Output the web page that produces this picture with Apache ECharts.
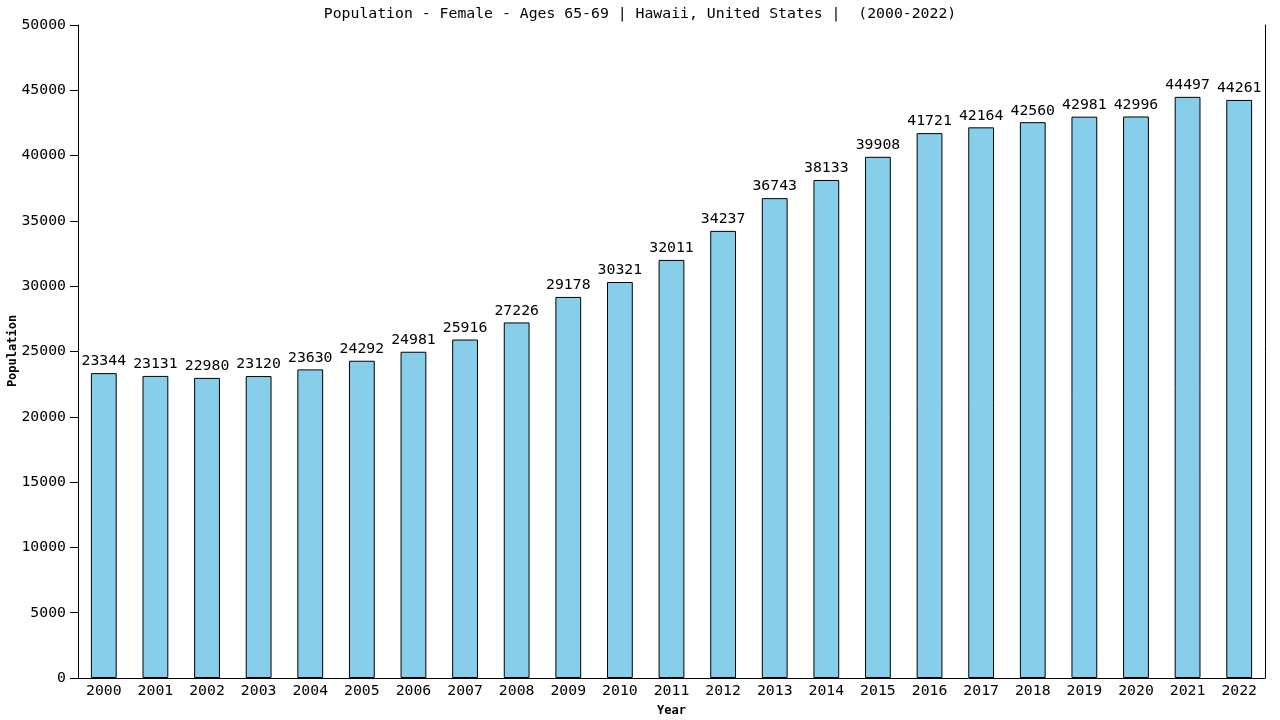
<!DOCTYPE html>
<html>
<head>
<meta charset="utf-8">
<script src="https://cdn.jsdelivr.net/npm/echarts@6/dist/echarts.min.js"></script>
<style>
html,body{margin:0;padding:0;background:#fff;}
#main{width:1280px;height:720px;}
</style>
</head>
<body>
<div id="main"></div>
<script>
var years=['2000','2001','2002','2003','2004','2005','2006','2007','2008','2009','2010','2011','2012','2013','2014','2015','2016','2017','2018','2019','2020','2021','2022'];
var population=[23344,23131,22980,23120,23630,24292,24981,25916,27226,29178,30321,32011,34237,36743,38133,39908,41721,42164,42560,42981,42996,44497,44261];

var font='"DejaVu Sans Mono", monospace';
var myChart=echarts.init(document.getElementById('main'));
var option={
	animation:false,
	title:{
		text:'Population - Female - Ages 65-69 | Hawaii, United States |  (2000-2022)',
		left:'center',
		top:2,
		textStyle:{fontFamily:font,fontSize:14.8,fontWeight:'normal',color:'#000'}
	},
	// y axis title, drawn by hand so it sits where the reference has it
	graphic:[{
		type:'text',
		x:13,
		y:351,
		rotation:Math.PI/2,
		style:{text:'Population',fontFamily:font,fontSize:12,fontWeight:'bold',fill:'#000',align:'center',verticalAlign:'middle'}
	}],
	grid:{left:78,right:15,top:25,bottom:42,containLabel:false,outerBoundsMode:'none'},
	xAxis:[{
		type:'category',
		data:years,
		name:'Year',
		nameLocation:'middle',
		nameGap:27,
		nameMoveOverlap:false,
		nameTextStyle:{fontFamily:font,fontSize:12,fontWeight:'bold',color:'#000'},
		axisLine:{lineStyle:{color:'#000',width:1}},
		axisTick:{show:false},
		axisLabel:{fontFamily:font,fontSize:14.8,color:'#000',margin:6,interval:0}
	}],
	yAxis:[{
		type:'value',
		min:0,
		max:50000,
		interval:5000,
		axisLine:{show:true,lineStyle:{color:'#000',width:1}},
		axisTick:{show:true,length:8,lineStyle:{color:'#000'}},
		axisLabel:{fontFamily:font,fontSize:14.8,color:'#000',margin:12,formatter:function(v){return String(v);}},
		splitLine:{show:false}
	},{
		type:'value',
		min:0,
		max:50000,
		position:'right',
		axisLine:{show:true,lineStyle:{color:'#000',width:1}},
		axisTick:{show:false},
		axisLabel:{show:false},
		splitLine:{show:false}
	}],
	series:[{
		name:'Population',
		type:'bar',
		data:population,
		barWidth:'50%',
		itemStyle:{color:'#87CEEB',borderColor:'#000',borderWidth:1},
		label:{show:true,position:'top',distance:4,fontFamily:font,fontSize:14.8,color:'#000'}
	}]
};
myChart.setOption(option);
</script>
</body>
</html>
